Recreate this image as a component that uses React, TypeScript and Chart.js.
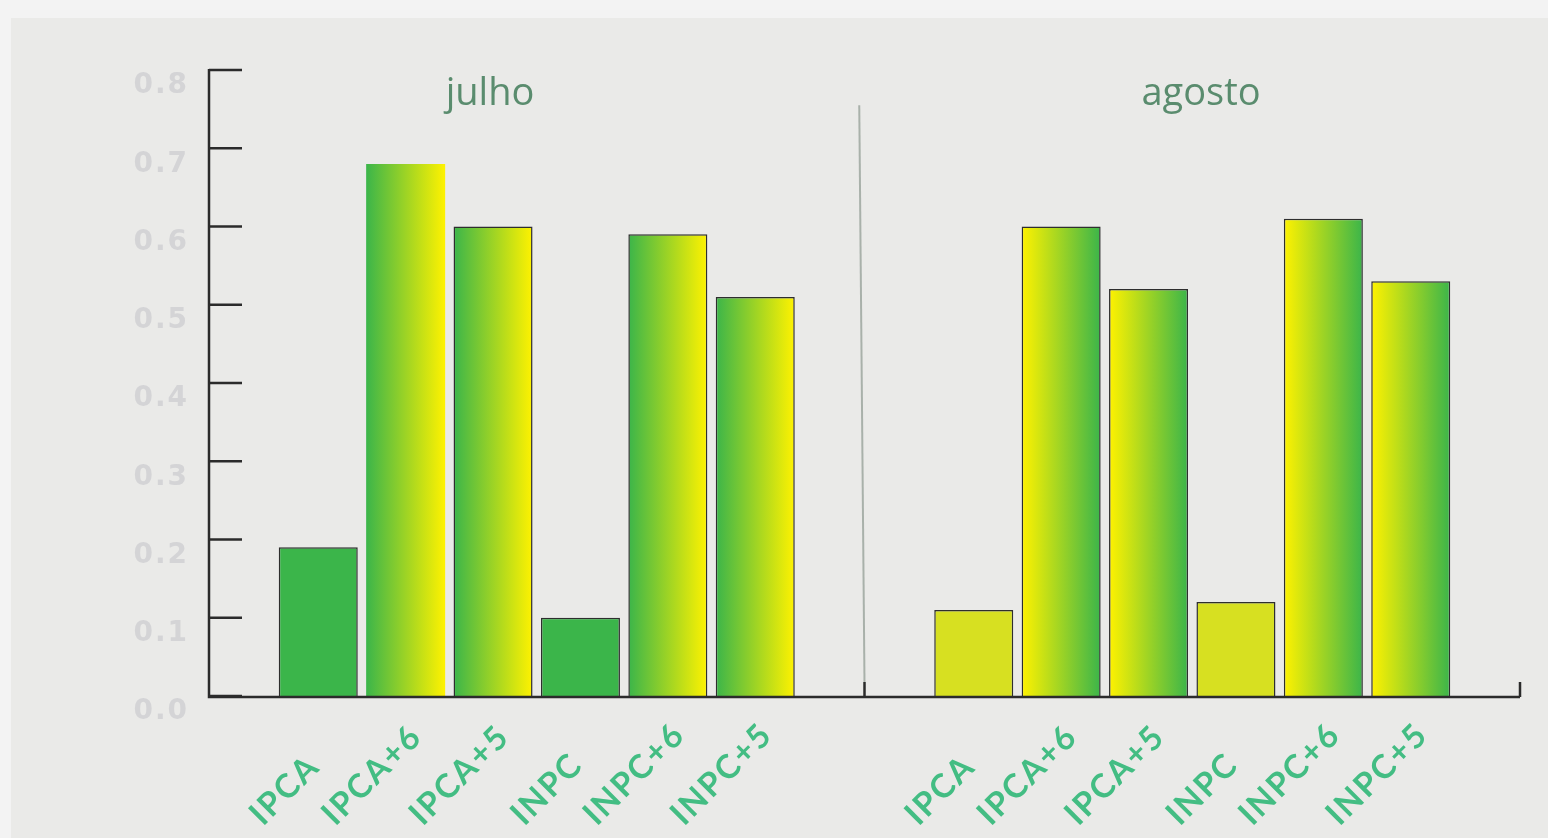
import React, { useEffect, useRef } from "react";
import { Chart, registerables } from "chart.js";

Chart.register(...registerables);

// ---- data ----
const groups = ["julho", "agosto"];
const categories = ["IPCA", "IPCA+6", "IPCA+5", "INPC", "INPC+6", "INPC+5"];
const julhoValues = [0.19, 0.68, 0.6, 0.1, 0.59, 0.51];
const agostoValues = [0.11, 0.6, 0.52, 0.12, 0.61, 0.53];
const julhoPositions = [1.25, 2.25, 3.25, 4.25, 5.25, 6.25];
const agostoPositions = [8.75, 9.75, 10.75, 11.75, 12.75, 13.75];
const yTickValues = [0, 0.1, 0.2, 0.3, 0.4, 0.5, 0.6, 0.7, 0.8];
const groupTitlePositions = [3.215, 11.35];
const dividerPosition = 7.5;

// ---- styles ----
const GREEN = "#3bb54a";
const YELLOW = "#fff200";
const LIME = "#d7e021";
const julhoFills = ["solidGreen", "gy", "gy", "solidGreen", "gy", "gy"];
const agostoFills = ["solidLime", "yg", "yg", "solidLime", "yg", "yg"];
const julhoBorders = [1.5, 0, 1.5, 1.5, 1.5, 1.5];
const agostoBorders = [1.5, 1.5, 1.5, 1.5, 1.5, 1.5];
const BAR_PCT = 0.904;

const allPositions = [...julhoPositions, ...agostoPositions];
const allValues = [...julhoValues, ...agostoValues];
const allLabels = [...categories, ...categories];
const allFills = [...julhoFills, ...agostoFills];
const allBorders = [...julhoBorders, ...agostoBorders];

function setSpacing(ctx: any, v: string) {
  try {
    ctx.letterSpacing = v;
  } catch (e) {}
}

const decorPlugin = {
  id: "decor",
  afterDatasetsDraw(chart: any) {
    const { ctx, chartArea, scales } = chart;
    const xs = scales.x;
    const ys = scales.y;
    const left = chartArea.left;
    const right = chartArea.right;
    const y0 = ys.getPixelForValue(0);
    const yTop = ys.getPixelForValue(0.8);
    ctx.save();
    // divider
    ctx.strokeStyle = "#a9b1aa";
    ctx.lineWidth = 2;
    ctx.beginPath();
    ctx.moveTo(xs.getPixelForValue(dividerPosition - 0.06), ys.getPixelForValue(0.755));
    ctx.lineTo(xs.getPixelForValue(dividerPosition), ys.getPixelForValue(0.018));
    ctx.stroke();

    // axes
    ctx.strokeStyle = "#2b2b2b";
    ctx.lineWidth = 2.5;
    ctx.lineCap = "butt";
    ctx.beginPath();
    ctx.moveTo(left, yTop - 1);
    ctx.lineTo(left, y0 + 1);
    ctx.lineTo(right, y0 + 1);
    ctx.stroke();
    yTickValues.forEach((v) => {
      const py = ys.getPixelForValue(v);
      ctx.beginPath();
      ctx.moveTo(left, py);
      ctx.lineTo(left + 33, py);
      ctx.stroke();
    });
    [dividerPosition, 15].forEach((v) => {
      const px = xs.getPixelForValue(v);
      ctx.beginPath();
      ctx.moveTo(px, y0 + 1);
      ctx.lineTo(px, y0 - 14);
      ctx.stroke();
    });

    // y tick labels
    ctx.fillStyle = "#d4d4d6";
    ctx.font = "bold 28px 'DejaVu Sans'";
    setSpacing(ctx, "2px");
    ctx.textAlign = "right";
    ctx.textBaseline = "middle";
    yTickValues.forEach((v) => {
      ctx.fillText(v.toFixed(1), left - 20, ys.getPixelForValue(v) + 16);
    });

    // x labels
    ctx.fillStyle = "#43bd83";
    ctx.font = "bold 33px Lato";
    setSpacing(ctx, "2px");
    ctx.textAlign = "center";
    ctx.textBaseline = "alphabetic";
    allLabels.forEach((lab, i) => {
      const w = ctx.measureText(lab).width;
      const cx = xs.getPixelForValue(allPositions[i]) - 26;
      const cy = y0 + 131 - w * 0.3536;
      ctx.save();
      ctx.translate(cx, cy);
      ctx.rotate(-Math.PI / 4);
      ctx.fillText(lab, 0, 0);
      ctx.restore();
    });
    setSpacing(ctx, "0px");

    // group titles
    ctx.fillStyle = "#5a8c6e";
    ctx.font = "38px 'Open Sans'";
    ctx.textBaseline = "middle";
    groups.forEach((g, i) => {
      ctx.fillText(g, xs.getPixelForValue(groupTitlePositions[i]), ys.getPixelForValue(0.769));
    });
    ctx.restore();
  },
};

export default function App() {
  const ref = useRef<HTMLCanvasElement | null>(null);
  useEffect(() => {
    if (!ref.current) return;
    const chart = new Chart(ref.current, {
      type: "bar",
      data: {
        datasets: [
          {
            data: allPositions.map((x, i) => ({ x, y: allValues[i] })),
            backgroundColor: (c: any) => {
              const i = c.dataIndex;
              const kind = allFills[i];
              if (kind === "solidGreen") return GREEN;
              if (kind === "solidLime") return LIME;
              const chart = c.chart;
              const xs = chart.scales && chart.scales.x;
              if (!xs || i === undefined) return GREEN;
              const px = xs.getPixelForValue(allPositions[i]);
              const half = ((xs.getPixelForValue(1) - xs.getPixelForValue(0)) * BAR_PCT) / 2;
              const g = chart.ctx.createLinearGradient(px - half, 0, px + half, 0);
              if (kind === "gy") {
                g.addColorStop(0, GREEN);
                g.addColorStop(1, YELLOW);
              } else {
                g.addColorStop(0, YELLOW);
                g.addColorStop(1, GREEN);
              }
              return g;
            },
            borderColor: "#2e2e2e",
            borderWidth: allBorders as any,
            borderSkipped: "bottom",
            barPercentage: BAR_PCT,
            categoryPercentage: 1,
          } as any,
        ],
      },
      options: {
        animation: false,
        responsive: false,
        devicePixelRatio: 1,
        layout: { padding: { left: 0, top: 70, right: 28, bottom: 142 } },
        plugins: { legend: { display: false }, tooltip: { enabled: false }, title: { display: false } },
        scales: {
          x: {
            type: "linear",
            min: 0,
            max: 15,
            offset: false,
            grid: { display: false, drawTicks: false },
            border: { display: false },
            ticks: { display: false },
            afterFit: (s: any) => {
              s.height = 0;
            },
          },
          y: {
            min: 0,
            max: 0.8,
            grid: { display: false, drawTicks: false },
            border: { display: false },
            ticks: { display: false },
            afterFit: (s: any) => {
              s.width = 209;
            },
          },
        },
      },
      plugins: [decorPlugin],
    });
    return () => chart.destroy();
  }, []);
  return (
    <div style={{ position: "fixed", left: 0, top: 0, width: 1548, height: 838, background: "#f3f3f3", overflow: "hidden" }}>
      <div style={{ position: "absolute", left: 11, top: 18, right: 0, bottom: 0, background: "#eaeae8" }} />
      <canvas ref={ref} width={1548} height={838} style={{ position: "absolute", left: 0, top: 0, width: 1548, height: 838 }} />
    </div>
  );
}
